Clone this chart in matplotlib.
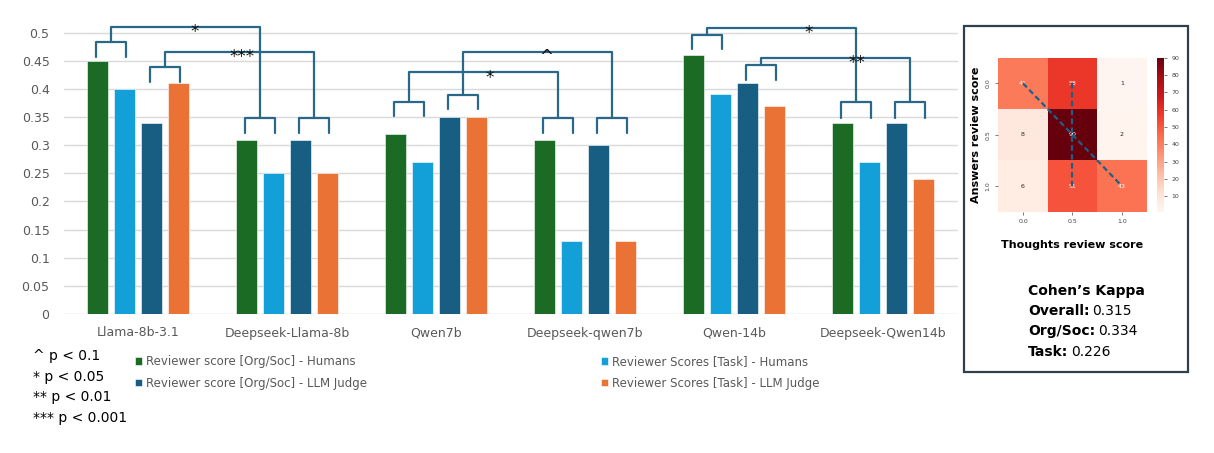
import matplotlib
matplotlib.use('Agg')
import matplotlib.pyplot as plt
import numpy as np
import seaborn as sns
from matplotlib.patches import Rectangle

# ---------------- data ----------------
models = ['Llama-8b-3.1', 'Deepseek-Llama-8b', 'Qwen7b', 'Deepseek-qwen7b', 'Qwen-14b', 'Deepseek-Qwen14b']
series_names = ['Reviewer score [Org/Soc] - Humans', 'Reviewer Scores [Task] - Humans',
                'Reviewer score [Org/Soc] - LLM Judge', 'Reviewer Scores [Task] - LLM Judge']
orgsoc_humans = [0.45, 0.31, 0.32, 0.31, 0.46, 0.34]
task_humans = [0.40, 0.25, 0.27, 0.13, 0.39, 0.27]
orgsoc_llm = [0.34, 0.31, 0.35, 0.30, 0.41, 0.34]
task_llm = [0.41, 0.25, 0.35, 0.13, 0.37, 0.24]
y_ticks = [0, 0.05, 0.1, 0.15, 0.2, 0.25, 0.3, 0.35, 0.4, 0.45, 0.5]

# significance comparisons (base model vs its Deepseek distillation)
sig_left = [0, 0, 2, 2, 4, 4]
sig_right = [1, 1, 3, 3, 5, 5]
sig_pair = [0, 1, 0, 1, 0, 1]          # 0: Humans pair, 1: LLM Judge pair
sig_labels = ['*', '***', '*', '^', '*', '**']
sig_legend = ['^ p < 0.1', '* p < 0.05', '** p < 0.01', '*** p < 0.001']

confusion = [[41, 58, 1], [8, 90, 2], [6, 51, 43]]
score_ticks = ['0.0', '0.5', '1.0']
kappa_labels = ['Overall:', 'Org/Soc:', 'Task:']
kappa_values = ['0.315', '0.334', '0.226']

# ---------------- styling ----------------
colors = ['#1b6b25', '#139fd7', '#175e82', '#e97234']
bracket_color = '#2a6889'
gray = '#595959'

# bracket geometry (data units)
br_left_leg = [0.457, 0.412, 0.351, 0.364, 0.471, 0.416]
br_left_bar = [0.483, 0.439, 0.377, 0.389, 0.496, 0.442]
br_right_leg = [0.321, 0.321, 0.321, 0.321, 0.348, 0.348]
br_right_bar = [0.348, 0.348, 0.348, 0.348, 0.377, 0.377]
br_top = [0.510, 0.466, 0.430, 0.466, 0.509, 0.455]
br_label_frac = [0.56, 0.52, 0.54, 0.56, 0.68, 0.64]

W, H = 1214, 453
fig = plt.figure(figsize=(W / 100, H / 100), dpi=100)
fig.patch.set_facecolor('white')


def fx(px):
    return px / W


def fy(py):
    return 1 - py / H


# ---------------- bar chart ----------------
ax = fig.add_axes([fx(63.5), fy(314), fx(894), 295.5 / H])
n_series = 4
step = 0.181
width = 0.141
offsets = (np.arange(n_series) - (n_series - 1) / 2) * step
x = np.arange(len(models))
values = [orgsoc_humans, task_humans, orgsoc_llm, task_llm]
bars = []
for i, (vals, c) in enumerate(zip(values, colors)):
    bars.append(ax.bar(x + offsets[i], vals, width, color=c, zorder=2,
                       edgecolor='white', linewidth=0.4, label=series_names[i]))

ax.set_xlim(-0.5, len(models) - 0.5)
ax.set_ylim(0, 0.525)
ax.set_yticks(y_ticks)
ax.set_yticklabels([f'{v:g}' for v in y_ticks])
ax.set_xticks(x)
ax.set_xticklabels(models)
ax.tick_params(axis='both', length=0, labelsize=9, labelcolor=gray)
ax.tick_params(axis='y', pad=10)
ax.tick_params(axis='x', pad=9)
ax.yaxis.grid(True, color='#d9d9d9', linewidth=1.0, zorder=0)
ax.set_axisbelow(True)
for s in ax.spines.values():
    s.set_visible(False)

# significance brackets
line_kw = dict(color=bracket_color, lw=1.6, clip_on=False, zorder=4,
               solid_joinstyle='round', solid_capstyle='round')
for k in range(len(sig_labels)):
    p = sig_pair[k]
    stems = []
    for grp, leg, bar in ((sig_left[k], br_left_leg[k], br_left_bar[k]),
                          (sig_right[k], br_right_leg[k], br_right_bar[k])):
        xa = grp + offsets[2 * p] - 0.01
        xb = grp + offsets[2 * p + 1] + 0.01
        ax.plot([xa, xa, xb, xb], [leg, bar, bar, leg], **line_kw)
        stems.append(((xa + xb) / 2, bar))
    (xl, yl), (xr, yr) = stems
    ax.plot([xl, xl, xr, xr], [yl, br_top[k], br_top[k], yr], **line_kw)
    xt = xl + br_label_frac[k] * (xr - xl)
    ax.annotate(sig_labels[k], (xt, br_top[k]), xytext=(0, -4), textcoords='offset points',
                ha='center', va='center', fontsize=12, color='#111111', zorder=5,
                annotation_clip=False)

# legends
leg_kw = dict(loc='upper left', frameon=False, fontsize=8.5, labelcolor=gray,
              handlelength=0.6, handleheight=0.6, handletextpad=0.35,
              labelspacing=0.75, borderpad=0, borderaxespad=0)
fig.legend(handles=[bars[0], bars[2]], labels=[series_names[0], series_names[2]],
           bbox_to_anchor=(fx(135), fy(355)), **leg_kw)
fig.legend(handles=[bars[1], bars[3]], labels=[series_names[1], series_names[3]],
           bbox_to_anchor=(fx(601), fy(355)), **leg_kw)

for i, t in enumerate(sig_legend):
    fig.text(fx(33), fy(356 + i * 20.7), t, ha='left', va='center', fontsize=10, color='black')

# ---------------- right panel ----------------
fig.add_artist(Rectangle((fx(964), fy(372)), fx(1188 - 964), (372 - 25.7) / H,
                         transform=fig.transFigure, fill=False, edgecolor='#2f3f4c', lw=1.6))

hax = fig.add_axes([fx(998.3), fy(211.7), fx(148.3), 154 / H])
cax = fig.add_axes([fx(1156.7), fy(211.7), fx(7.3), 154 / H])
sns.heatmap(np.array(confusion), annot=True, fmt='d', cmap='Reds', ax=hax, cbar_ax=cax,
            annot_kws={'size': 4.5}, xticklabels=score_ticks, yticklabels=score_ticks)
hax.tick_params(axis='both', labelsize=4.5, labelcolor='#444444', length=2, width=0.5, color='#444444')
hax.set_yticklabels(score_ticks, rotation=90, va='center')
hax.set_xticklabels(score_ticks, rotation=0)
hax.set_xlabel('Thoughts review score', fontsize=8, fontweight='bold', labelpad=11)
hax.set_ylabel('Answers review score', fontsize=8, fontweight='bold', labelpad=3)
cax.tick_params(labelsize=4.5, labelcolor='#444444', length=2, width=0.5, color='#444444')
cax.set_yticks([10, 20, 30, 40, 50, 60, 70, 80, 90])

# agreement dashed lines through cell centres
n = len(confusion)
centers = np.arange(n) + 0.5
hax.plot([centers[0], centers[-1]], [centers[0], centers[-1]], color='#1f5f85', lw=1.6,
         ls=(0, (2.5, 1.5)), zorder=5)
hax.plot([centers[1], centers[1]], [centers[0], centers[-1]], color='#1f5f85', lw=1.6,
         ls=(0, (2.5, 1.5)), zorder=5)

# Cohen's Kappa text
fig.text(fx(1028), fy(290.5), 'Cohen\u2019s Kappa', ha='left', va='center', fontsize=10,
         fontweight='bold', color='black')
fig.canvas.draw()
renderer = fig.canvas.get_renderer()
for i, (lab, val) in enumerate(zip(kappa_labels, kappa_values)):
    yy = fy(311 + i * 20.3)
    t = fig.text(fx(1028), yy, lab, ha='left', va='center', fontsize=10, fontweight='bold', color='black')
    bb = t.get_window_extent(renderer=renderer)
    fig.text(bb.x1 / (fig.dpi * fig.get_figwidth()) + fx(3), yy, val, ha='left', va='center',
             fontsize=10, color='black')

fig.savefig('out.png', dpi=100, facecolor='white')
